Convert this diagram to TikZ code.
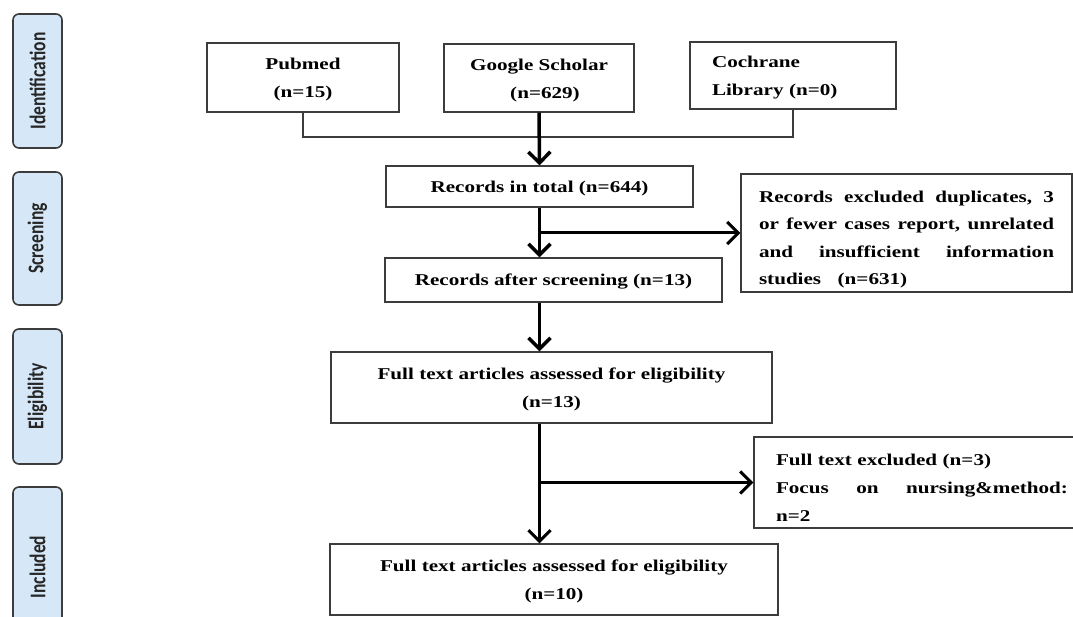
\documentclass[tikz,border=0pt]{standalone}
\usepackage{fontspec}
\usepackage{graphicx}
\usetikzlibrary{arrows.meta}
\newfontfamily\bodyfont[FakeStretch=1.28]{Liberation Serif}
\newfontfamily\tabfont{Carlito}
\definecolor{tabblue}{RGB}{214,232,248}
\definecolor{edge}{RGB}{60,60,60}
\newcommand{\tabtext}[1]{\scalebox{1}[1.28]{#1}}
\newcommand{\jline}[2]{\leavevmode\hbox to #1{#2}}
\begin{document}
\begin{tikzpicture}[x=1pt,y=-1pt,
  box/.style={draw=edge, line width=1.3pt, inner sep=0pt, align=center,
    font=\bodyfont\bfseries\fontsize{16.5}{28}\selectfont},
  tab/.style={draw=edge, fill=tabblue, line width=1.6pt, rounded corners=6pt,
    minimum width=49pt, inner sep=0pt, font=\tabfont\bfseries\fontsize{17.5}{20}\selectfont,
    text=black!85},
  thin/.style={draw=edge, line width=1.5pt},
  arr/.style={draw=black, line width=3.5pt, -{Straight Barb[length=11pt,width=22pt]}},
  arrb/.style={draw=black, line width=3pt, -{Straight Barb[length=11pt,width=22pt]}}
]
\useasboundingbox (0,0) rectangle (1073,617);
\fill[white] (0,0) rectangle (1073,617);

% side tabs
\node[tab, minimum height=134pt] (tid) at (37.5,81) {\rotatebox{90}{\tabtext{Identification}}};
\node[tab, minimum height=133pt] (tsc) at (37.5,238.5) {\rotatebox{90}{\tabtext{Screening}}};
\node[tab, minimum height=135pt] (tel) at (37.5,396.5) {\rotatebox{90}{\tabtext{Eligibility}}};
\node[tab, minimum height=160pt] (tin) at (37.5,567) {\rotatebox{90}{\tabtext{Included}}};

% source boxes
\node[box, minimum width=192pt, minimum height=69pt] (pub) at (303,77.5) {\rule{0pt}{16pt}Pubmed\\ (n=15)};
\node[box, minimum width=190pt, minimum height=68pt] (gs) at (539,78) {\rule{0pt}{16pt}Google Scholar\\ \hspace*{12pt}(n=629)};
\node[box, minimum height=67pt, text width=162pt, inner xsep=22pt, align=left] (coch) at (793,75.5) {\rule{0pt}{15pt}Cochrane\\ Library (n=0)};

% screening
\node[box, minimum width=307pt, minimum height=41pt] (tot) at (539.5,186.5) {\rule{0pt}{15pt}Records in total (n=644)};
\node[box, minimum width=337pt, minimum height=44pt] (scr) at (553.5,280) {\rule{0pt}{15pt}Records after screening (n=13)};
\node[box, minimum height=118pt, text width=295pt, inner xsep=18pt, align=left,
  font=\bodyfont\bfseries\fontsize{16.5}{27.5}\selectfont] (ex1) at (906.5,233)
  {\rule{0pt}{25pt}\jline{295pt}{Records\hfill excluded\hfill duplicates,\hfill 3}\\
   \jline{295pt}{or\hfill fewer\hfill cases\hfill report,\hfill unrelated}\\
   \jline{295pt}{and\hfill insufficient\hfill information}\\
   studies\ \ \ (n=631)};

% eligibility
\node[box, minimum width=441pt, minimum height=71pt] (ft) at (551.5,387.5) {\rule{0pt}{16pt}Full text articles assessed for eligibility\\ (n=13)};
\node[box, minimum height=91pt, text width=292pt, inner xsep=22pt, align=left] (ex2) at (922,482.5)
  {\rule{0pt}{22pt}Full text excluded (n=3)\\
   \jline{292pt}{Focus\hfill on\hfill nursing\&method:}\\
   n=2};

% included
\node[box, minimum width=448pt, minimum height=71pt] (fin) at (554,579.5) {\rule{0pt}{16pt}Full text articles assessed for eligibility\\ (n=10)};

% connectors
\coordinate (jn) at (539,137);
\draw[thin] (pub.south) |- (jn) -| (coch.south);
\draw[arr] (gs.south) -- (tot.north);
\draw[arr] (tot.south) -- (tot.south |- scr.north);
\draw[arrb] (tot.south |- ex1.west) -- (ex1.west);
\draw[arr] (tot.south |- scr.south) -- (tot.south |- ft.north);
\draw[arrb] (tot.south |- ft.south) -- (tot.south |- fin.north);
\draw[arrb] (tot.south |- ex2.west) -- (ex2.west);
\end{tikzpicture}
\end{document}
